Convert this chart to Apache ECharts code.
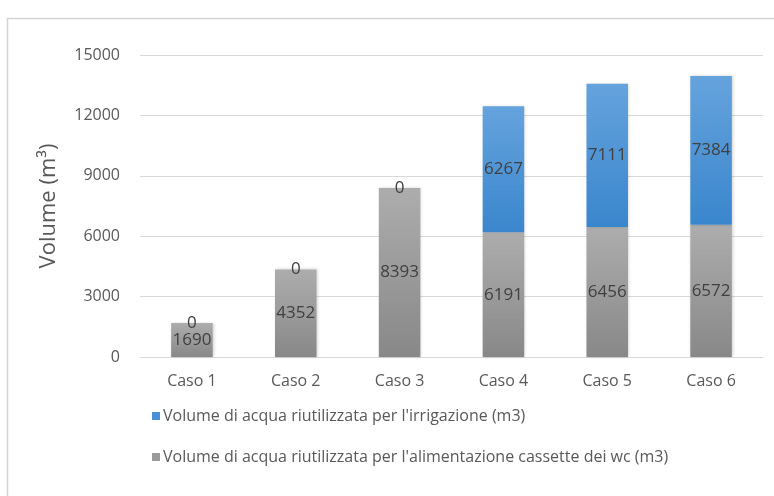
<!DOCTYPE html>
<html>
<head>
<meta charset="utf-8">
<script src="https://cdn.jsdelivr.net/npm/echarts@6/dist/echarts.min.js"></script>
<style>
  html, body { margin: 0; padding: 0; background: #ffffff; }
  #chart { width: 774px; height: 496px; }
</style>
</head>
<body>
<div id="chart"></div>
<script>
// Casi di studio e volumi annui di acqua riutilizzata (m3)
const categories = ['Caso 1', 'Caso 2', 'Caso 3', 'Caso 4', 'Caso 5', 'Caso 6'];
const wcVolumes = [1690, 4352, 8393, 6191, 6456, 6572];
const irrigationVolumes = [0, 0, 0, 6267, 7111, 7384];
const yTicks = [0, 3000, 6000, 9000, 12000, 15000];

const nameIrrigation = "Volume di acqua riutilizzata per l'irrigazione (m3)";
const nameWc = "Volume di acqua riutilizzata per l'alimentazione cassette dei wc (m3)";

const FONT = '"Open Sans", "Noto Sans", sans-serif';
const TEXT = '#595959';

const grayFill = new echarts.graphic.LinearGradient(0, 0, 0, 1, [
  { offset: 0, color: '#adadad' },
  { offset: 1, color: '#888888' }
]);
const blueFill = new echarts.graphic.LinearGradient(0, 0, 0, 1, [
  { offset: 0, color: '#65a3dd' },
  { offset: 1, color: '#3a86cd' }
]);

const labelStyle = {
  show: true,
  position: 'inside',
  color: '#404040',
  fontSize: 17,
  fontFamily: FONT
};

const chart = echarts.init(document.getElementById('chart'), null, { renderer: 'canvas' });
chart.setOption({
  backgroundColor: '#ffffff',
  animation: false,
  textStyle: { fontFamily: FONT },
  graphic: [{
    type: 'rect',
    left: 5, top: 16,
    shape: { width: 820, height: 520 },
    style: { fill: 'none', stroke: '#d4d4d4', lineWidth: 1.5 },
    silent: true, z: -1
  }],
  grid: { left: 140, right: 11, top: 55, bottom: 139, containLabel: false },
  legend: {
    orient: 'vertical',
    left: 147, top: 403,
    itemWidth: 8, itemHeight: 8, itemGap: 25,
    icon: 'rect',
    data: [
      { name: nameIrrigation, itemStyle: { color: '#4a90d6' } },
      { name: nameWc, itemStyle: { color: '#9a9a9a' } }
    ],
    textStyle: { color: TEXT, fontSize: 16, fontFamily: FONT, padding: [0, 0, 0, -2] }
  },
  xAxis: {
    type: 'category',
    data: categories,
    axisLine: { lineStyle: { color: '#d9d9d9', width: 1 } },
    axisTick: { show: false },
    axisLabel: { color: TEXT, fontSize: 16, margin: 16 }
  },
  yAxis: {
    type: 'value',
    min: yTicks[0],
    max: yTicks[yTicks.length - 1],
    interval: yTicks[1] - yTicks[0],
    name: 'Volume (m³)',
    nameLocation: 'middle',
    nameGap: 80,
    nameTextStyle: { color: TEXT, fontSize: 22 },
    axisLine: { show: false },
    axisTick: { show: false },
    axisLabel: { color: TEXT, fontSize: 16, margin: 20, formatter: v => String(v) },
    splitLine: { lineStyle: { color: '#d9d9d9', width: 1 } }
  },
  series: [
    {
      name: nameWc,
      type: 'bar',
      stack: 'volume',
      data: wcVolumes,
      barWidth: '40%',
      itemStyle: { color: grayFill, shadowColor: 'rgba(0,0,0,0.18)', shadowBlur: 3, shadowOffsetX: 1 },
      label: labelStyle
    },
    {
      name: nameIrrigation,
      type: 'bar',
      stack: 'volume',
      data: irrigationVolumes,
      barWidth: '40%',
      itemStyle: { color: blueFill, shadowColor: 'rgba(0,0,0,0.18)', shadowBlur: 3, shadowOffsetX: 1 },
      label: labelStyle
    }
  ]
});
</script>
</body>
</html>
